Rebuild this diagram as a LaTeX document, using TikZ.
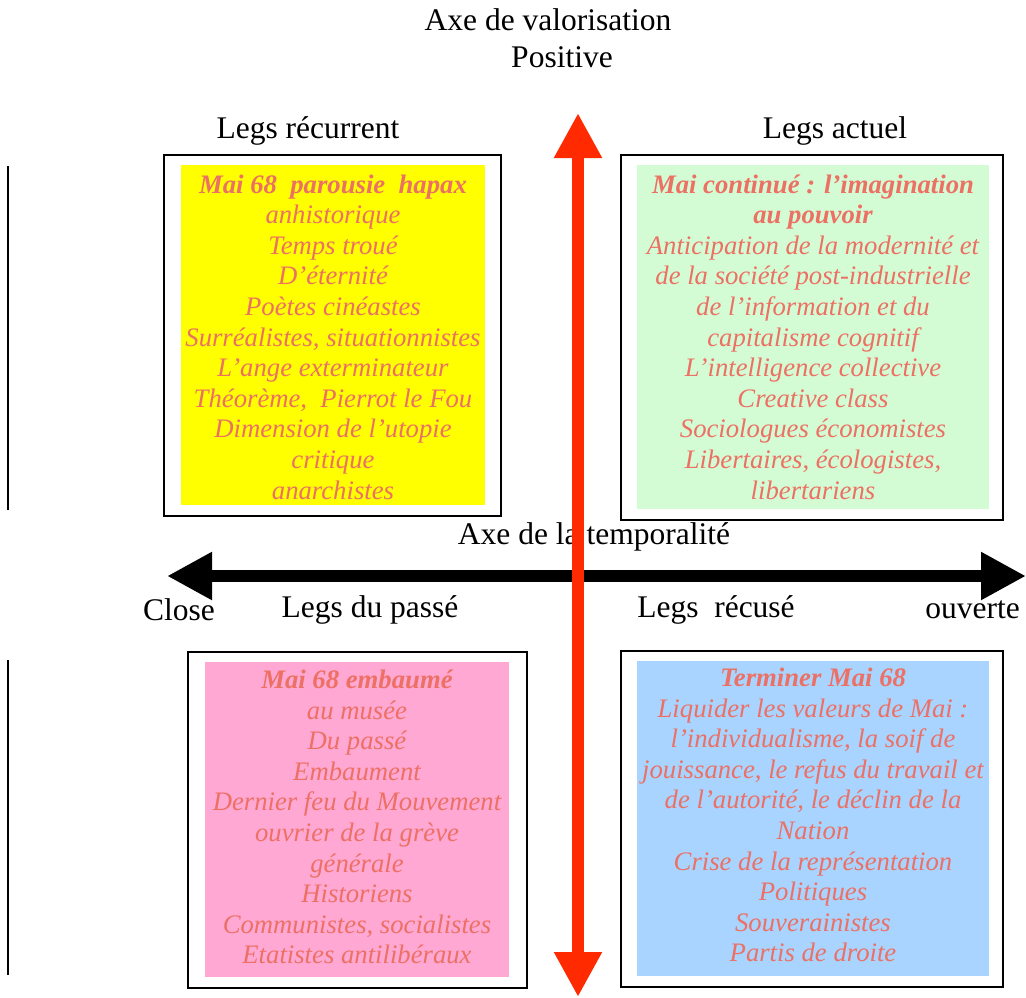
\documentclass[tikz,border=0pt]{standalone}
\usepackage{fontspec}
\setmainfont{Liberation Serif}
\usetikzlibrary{arrows.meta}
\definecolor{txtred}{RGB}{236,112,100}
\definecolor{boxyellow}{RGB}{255,255,0}
\definecolor{boxgreen}{RGB}{212,252,212}
\definecolor{boxpink}{RGB}{255,168,212}
\definecolor{boxblue}{RGB}{168,212,255}
\definecolor{arrred}{RGB}{255,42,0}
\tikzset{
  lbl/.style={font=\fontsize{31.5}{36}\selectfont, inner sep=0pt, text=black},
  outerbox/.style={draw=black, line width=2pt, fill=white, inner sep=0pt},
  innerbox/.style={draw=none, inner sep=0pt},
  quadtext/.style={font=\fontsize{26.7}{30.6}\selectfont\itshape, text=txtred, align=center, inner sep=0pt},
  axisarrow/.style={line width=12pt, {Triangle[length=45pt,width=45pt]}-{Triangle[length=45pt,width=45pt]}},
}
\begin{document}
\begin{tikzpicture}[x=1pt,y=-1pt]
\useasboundingbox (0,0) rectangle (1026,997);
% titles
\node[lbl] (tv) at (548,20) {Axe de valorisation};
\node[lbl] (tp) at (562,57) {Positive};
\node[lbl] (lr) at (308,131) {Legs récurrent};
\node[lbl] (la) at (835,131) {Legs actuel};
% top-left
\node[outerbox, minimum width=337pt, minimum height=361pt] (tlo) at (332.5,335.5) {};
\node[innerbox, fill=boxyellow, minimum width=304pt, minimum height=340pt] (tli) at (333,335) {};
\node[quadtext] (tlt) at (333,337) {\bfseries Mai 68\ \ parousie\ \ hapax\\anhistorique\\Temps troué\\D’éternité\\Poètes cinéastes\\Surréalistes, situationnistes\\L’ange exterminateur\\Théorème,\ \ Pierrot le Fou\\Dimension de l’utopie\\critique\\anarchistes};
% top-right
\node[outerbox, minimum width=382pt, minimum height=365pt] (tro) at (812,337.5) {};
\node[innerbox, fill=boxgreen, minimum width=352pt, minimum height=344pt] (tri) at (813,337) {};
\node[quadtext] (trt) at (813,337) {\bfseries Mai continué : l’imagination\\\bfseries au pouvoir\\Anticipation de la modernité et\\de la société post-industrielle\\de l’information et du\\capitalisme cognitif\\L’intelligence collective\\Creative class\\Sociologues économistes\\Libertaires, écologistes,\\libertariens};
% bottom-left
\node[outerbox, minimum width=339pt, minimum height=336pt] (blo) at (357.5,820) {};
\node[innerbox, fill=boxpink, minimum width=304pt, minimum height=315pt] (bli) at (357,819.5) {};
\node[quadtext] (blt) at (357,817) {\bfseries Mai 68 embaumé\\au musée\\Du passé\\Embaument\\Dernier feu du Mouvement\\ouvrier de la grève\\générale\\Historiens\\Communistes, socialistes\\Etatistes antilibéraux};
% bottom-right
\node[outerbox, minimum width=382pt, minimum height=336pt] (bro) at (812,819) {};
\node[innerbox, fill=boxblue, minimum width=352pt, minimum height=315pt] (bri) at (813,818.5) {};
\node[quadtext] (brt) at (813,815) {\bfseries Terminer Mai 68\\Liquider les valeurs de Mai :\\l’individualisme, la soif de\\jouissance, le refus du travail et\\de l’autorité, le déclin de la\\Nation\\Crise de la représentation\\Politiques\\Souverainistes\\Partis de droite};
% axis labels
\node[lbl] (at) at (594,537) {Axe de la temporalité};
\node[lbl] (cl) at (179,610) {Close};
\node[lbl] (lp) at (370,610) {Legs du passé};
\node[lbl] (lrc) at (716,610) {Legs\ \ récusé};
\node[lbl, anchor=east] (ou) at (1020,610) {ouverte};
% left margin lines
\coordinate (m1a) at (8,166); \coordinate (m1b) at (8,510);
\coordinate (m2a) at (8,660); \coordinate (m2b) at (8,975);
\draw[line width=2pt] (m1a) -- (m1b);
\draw[line width=2pt] (m2a) -- (m2b);
% axes
\coordinate (hl) at (167,576); \coordinate (hr) at (1026,576);
\coordinate (vt) at (578,113); \coordinate (vb) at (578,997);
\draw[axisarrow, draw=black, fill=black] (hl) -- (hr);
\draw[axisarrow, draw=arrred, fill=arrred] (vt) -- (vb);
\end{tikzpicture}
\end{document}
